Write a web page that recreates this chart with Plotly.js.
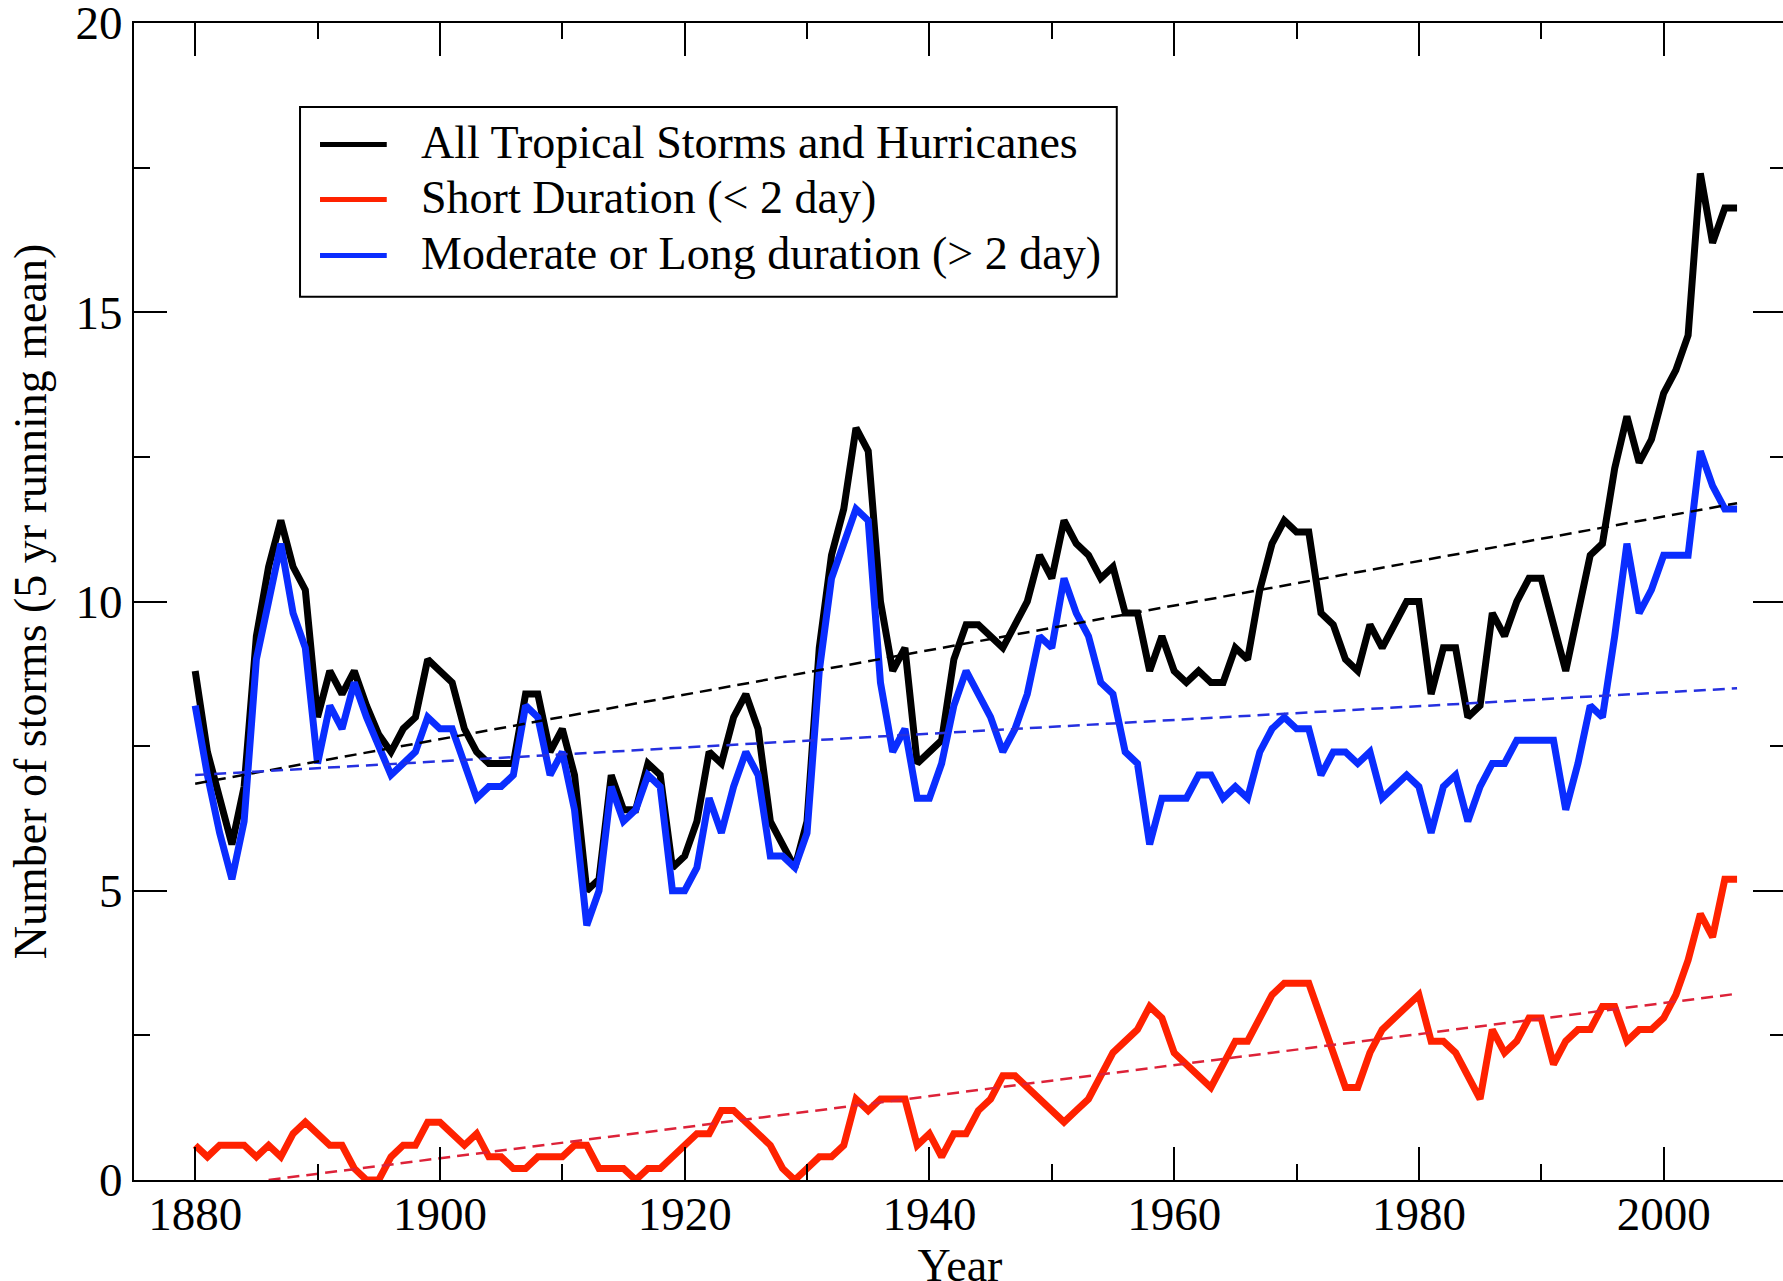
<!DOCTYPE html>
<html>
<head>
<meta charset="utf-8">
<script src="https://cdn.plot.ly/plotly-3.0.1.min.js"></script>
<style>
  html, body { margin: 0; padding: 0; background: #ffffff; overflow: hidden; }
  #chart { width: 1790px; height: 1300px; }
</style>
</head>
<body>
<div id="chart"></div>
<script>
// ---- data ----
const years = [
  1880,1881,1882,1883,1884,1885,1886,1887,1888,1889,
  1890,1891,1892,1893,1894,1895,1896,1897,1898,1899,
  1900,1901,1902,1903,1904,1905,1906,1907,1908,1909,
  1910,1911,1912,1913,1914,1915,1916,1917,1918,1919,
  1920,1921,1922,1923,1924,1925,1926,1927,1928,1929,
  1930,1931,1932,1933,1934,1935,1936,1937,1938,1939,
  1940,1941,1942,1943,1944,1945,1946,1947,1948,1949,
  1950,1951,1952,1953,1954,1955,1956,1957,1958,1959,
  1960,1961,1962,1963,1964,1965,1966,1967,1968,1969,
  1970,1971,1972,1973,1974,1975,1976,1977,1978,1979,
  1980,1981,1982,1983,1984,1985,1986,1987,1988,1989,
  1990,1991,1992,1993,1994,1995,1996,1997,1998,1999,
  2000,2001,2002,2003,2004,2005,2006
];

const allStorms = [
  8.8, 7.4, 6.6, 5.8, 6.8, 9.4, 10.6, 11.4, 10.6, 10.2,
  8.0, 8.8, 8.4, 8.8, 8.2, 7.7, 7.4, 7.8, 8.0, 9.0,
  8.8, 8.6, 7.8, 7.4, 7.2, 7.2, 7.2, 8.4, 8.4, 7.4,
  7.8, 7.0, 5.0, 5.2, 7.0, 6.4, 6.4, 7.2, 7.0, 5.4,
  5.6, 6.2, 7.4, 7.2, 8.0, 8.4, 7.8, 6.2, 5.8, 5.4,
  6.2, 9.2, 10.8, 11.6, 13.0, 12.6, 10.0, 8.8, 9.2, 7.2,
  7.4, 7.6, 9.0, 9.6, 9.6, 9.4, 9.2, 9.6, 10.0, 10.8,
  10.4, 11.4, 11.0, 10.8, 10.4, 10.6, 9.8, 9.8, 8.8, 9.4,
  8.8, 8.6, 8.8, 8.6, 8.6, 9.2, 9.0, 10.2, 11.0, 11.4,
  11.2, 11.2, 9.8, 9.6, 9.0, 8.8, 9.6, 9.2, 9.6, 10.0,
  10.0, 8.4, 9.2, 9.2, 8.0, 8.2, 9.8, 9.4, 10.0, 10.4,
  10.4, 9.6, 8.8, 9.8, 10.8, 11.0, 12.3, 13.2, 12.4, 12.8,
  13.6, 14.0, 14.6, 17.4, 16.2, 16.8, 16.8
];

const shortDuration = [
  0.6, 0.4, 0.6, 0.6, 0.6, 0.4, 0.6, 0.4, 0.8, 1.0,
  0.8, 0.6, 0.6, 0.2, 0.0, 0.0, 0.4, 0.6, 0.6, 1.0,
  1.0, 0.8, 0.6, 0.8, 0.4, 0.4, 0.2, 0.2, 0.4, 0.4,
  0.4, 0.6, 0.6, 0.2, 0.2, 0.2, 0.0, 0.2, 0.2, 0.4,
  0.6, 0.8, 0.8, 1.2, 1.2, 1.0, 0.8, 0.6, 0.2, 0.0,
  0.2, 0.4, 0.4, 0.6, 1.4, 1.2, 1.4, 1.4, 1.4, 0.6,
  0.8, 0.4, 0.8, 0.8, 1.2, 1.4, 1.8, 1.8, 1.6, 1.4,
  1.2, 1.0, 1.2, 1.4, 1.8, 2.2, 2.4, 2.6, 3.0, 2.8,
  2.2, 2.0, 1.8, 1.6, 2.0, 2.4, 2.4, 2.8, 3.2, 3.4,
  3.4, 3.4, 2.8, 2.2, 1.6, 1.6, 2.2, 2.6, 2.8, 3.0,
  3.2, 2.4, 2.4, 2.2, 1.8, 1.4, 2.6, 2.2, 2.4, 2.8,
  2.8, 2.0, 2.4, 2.6, 2.6, 3.0, 3.0, 2.4, 2.6, 2.6,
  2.8, 3.2, 3.8, 4.6, 4.2, 5.2, 5.2
];

const longDuration = [
  8.2, 7.0, 6.0, 5.2, 6.2, 9.0, 10.0, 11.0, 9.8, 9.2,
  7.2, 8.2, 7.8, 8.6, 8.0, 7.5, 7.0, 7.2, 7.4, 8.0,
  7.8, 7.8, 7.2, 6.6, 6.8, 6.8, 7.0, 8.2, 8.0, 7.0,
  7.4, 6.4, 4.4, 5.0, 6.8, 6.2, 6.4, 7.0, 6.8, 5.0,
  5.0, 5.4, 6.6, 6.0, 6.8, 7.4, 7.0, 5.6, 5.6, 5.4,
  6.0, 8.8, 10.4, 11.0, 11.6, 11.4, 8.6, 7.4, 7.8, 6.6,
  6.6, 7.2, 8.2, 8.8, 8.4, 8.0, 7.4, 7.8, 8.4, 9.4,
  9.2, 10.4, 9.8, 9.4, 8.6, 8.4, 7.4, 7.2, 5.8, 6.6,
  6.6, 6.6, 7.0, 7.0, 6.6, 6.8, 6.6, 7.4, 7.8, 8.0,
  7.8, 7.8, 7.0, 7.4, 7.4, 7.2, 7.4, 6.6, 6.8, 7.0,
  6.8, 6.0, 6.8, 7.0, 6.2, 6.8, 7.2, 7.2, 7.6, 7.6,
  7.6, 7.6, 6.4, 7.2, 8.2, 8.0, 9.4, 11.0, 9.8, 10.2,
  10.8, 10.8, 10.8, 12.6, 12.0, 11.6, 11.6
];

// linear trend lines (end points)
const trendYears = [1880, 2006];
const allTrend = [6.85, 11.7];
const longTrend = [7.0, 8.5];
const shortTrendYears = [1886, 2006];
const shortTrend = [0.0, 3.22];

const seriesNames = [
  "All Tropical Storms and Hurricanes",
  "Short Duration (< 2 day)",
  "Moderate or Long duration (> 2 day)"
];
const seriesColors = ["#000000", "#ff2200", "#0a2dff"];
const trendColors = ["#000000", "#dd2238", "#2530e0"];

const xTickVals = [1880, 1900, 1920, 1940, 1960, 1980, 2000];
const yTickVals = [0, 5, 10, 15, 20];

// ---- traces ----
const FONT = "Liberation Serif, Times New Roman, serif";
const traces = [
  {x: years, y: allStorms, name: seriesNames[0], mode: "lines",
   line: {color: seriesColors[0], width: 7}},
  {x: years, y: shortDuration, name: seriesNames[1], mode: "lines",
   line: {color: seriesColors[1], width: 7}},
  {x: years, y: longDuration, name: seriesNames[2], mode: "lines",
   line: {color: seriesColors[2], width: 7}},
  {x: trendYears, y: allTrend, mode: "lines", showlegend: false,
   line: {color: trendColors[0], width: 2.5, dash: "12px,7px"}},
  {x: shortTrendYears, y: shortTrend, mode: "lines", showlegend: false,
   line: {color: trendColors[1], width: 2.5, dash: "12px,7px"}},
  {x: trendYears, y: longTrend, mode: "lines", showlegend: false,
   line: {color: trendColors[2], width: 2.5, dash: "12px,7px"}}
];

// ---- legend drawn as a boxed key (paper coordinates) ----
const legBox = {x0: 0.1005, x1: 0.5949, y0: 0.7633, y1: 0.9274};
const legRows = [0.8950, 0.8475, 0.7990];
const legLineX = [0.1126, 0.1530];
const legTextX = 0.1726;

const shapes = [{
  type: "rect", xref: "paper", yref: "paper",
  x0: legBox.x0, x1: legBox.x1, y0: legBox.y0, y1: legBox.y1,
  line: {color: "#000000", width: 2}, fillcolor: "#ffffff", layer: "above"
}];
const annotations = [];
seriesNames.forEach((nm, i) => {
  shapes.push({
    type: "line", xref: "paper", yref: "paper",
    x0: legLineX[0], x1: legLineX[1], y0: legRows[i], y1: legRows[i],
    line: {color: seriesColors[i], width: 5}, layer: "above"
  });
  annotations.push({
    xref: "paper", yref: "paper", x: legTextX, y: legRows[i] + 0.002,
    xanchor: "left", yanchor: "middle", showarrow: false,
    text: nm.replace(/</g, "&lt;").replace(/>/g, "&gt;"),
    font: {family: FONT, size: 46, color: "#000000"}
  });
});

const axisCommon = {
  showline: true, linecolor: "#000000", linewidth: 2,
  mirror: "ticks", ticks: "inside", ticklen: 33, tickwidth: 2, tickcolor: "#000000",
  showgrid: false, zeroline: false,
  tickfont: {family: FONT, size: 47, color: "#000000"},
  ticklabeloverflow: "allow",
  automargin: false
};

const layout = {
  width: 1790, height: 1300,
  margin: {l: 134, r: 4, t: 23, b: 120},
  paper_bgcolor: "#ffffff", plot_bgcolor: "#ffffff",
  showlegend: false,
  font: {family: FONT, color: "#000000"},
  xaxis: Object.assign({}, axisCommon, {
    range: [1875, 2010],
    tickvals: xTickVals,
    ticktext: xTickVals.map(String),
    ticklabelstandoff: -8,
    minor: {dtick: 10, tick0: 1880, ticks: "inside", ticklen: 16, tickwidth: 2, tickcolor: "#000000"},
    title: {text: "Year", font: {family: FONT, size: 46, color: "#000000"}, standoff: 1}
  }),
  yaxis: Object.assign({}, axisCommon, {
    range: [0, 20],
    tickvals: yTickVals,
    ticktext: yTickVals.map(String),
    minor: {dtick: 2.5, tick0: 0, ticks: "inside", ticklen: 16, tickwidth: 2, tickcolor: "#000000"},
    title: {text: "Number of storms (5 yr running mean)", font: {family: FONT, size: 46, color: "#000000"}, standoff: 14}
  }),
  shapes: shapes,
  annotations: annotations
};

Plotly.newPlot("chart", traces, layout, {staticPlot: true, displayModeBar: false}).then(function (gd) {
  // let thick lines lying on the zero line show their full width, as in the original
  gd.querySelectorAll(".cartesianlayer .plot").forEach(function (g) { g.removeAttribute("clip-path"); });
});
</script>
</body>
</html>
